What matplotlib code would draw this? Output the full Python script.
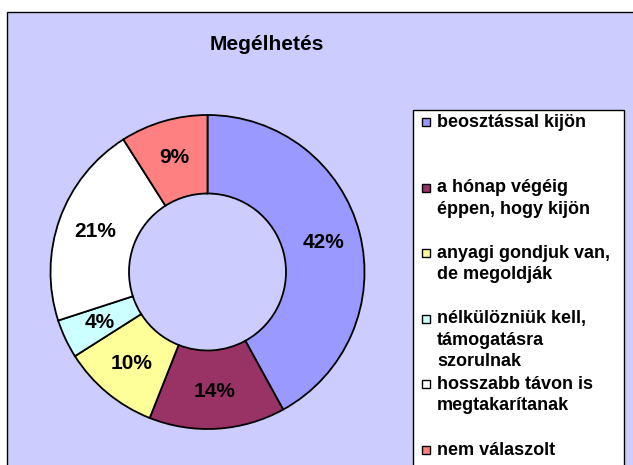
import matplotlib.pyplot as plt
from matplotlib.patches import Rectangle

plt.rcParams['font.family'] = ['Liberation Sans', 'DejaVu Sans']

title = 'Megélhetés'
labels = ['beosztással kijön',
          'a hónap végéig\néppen, hogy kijön',
          'anyagi gondjuk van,\nde megoldják',
          'nélkülözniük kell,\ntámogatásra\nszorulnak',
          'hosszabb távon is\nmegtakarítanak',
          'nem válaszolt']
values = [42, 14, 10, 4, 21, 9]
colors = ['#9999FF', '#993366', '#FFFF99', '#CCFFFF', '#FFFFFF', '#FF8080']

W, H = 633, 465
fig = plt.figure(figsize=(W / 100, H / 100), dpi=100, facecolor='white')

# chart area background
fig.patches.append(Rectangle((7 / W, -0.01), 1.02 - 7 / W, 1.01 - 12 / H,
                             transform=fig.transFigure, facecolor='#CCCCFF',
                             edgecolor='black', linewidth=1, zorder=0))

# doughnut
cx, cy, r = 207.5, 272, 157
ax = fig.add_axes([(cx - r) / W, 1 - (cy + r) / H, 2 * r / W, 2 * r / H])
ax.set_zorder(5)
ax.patch.set_visible(False)
ax.pie(values, colors=colors, startangle=90, counterclock=False, radius=1,
       autopct='%1.0f%%', pctdistance=0.76,
       wedgeprops=dict(width=0.5, edgecolor='black', linewidth=1.3),
       textprops=dict(fontsize=15, fontweight='bold', color='black'))
ax.set_xlim(-1, 1)
ax.set_ylim(-1, 1)
ax.set_aspect('auto')
ax.axis('off')

fig.text(267 / W, 1 - 44 / H, title, ha='center', va='center',
         fontsize=15, fontweight='bold')

# legend box
fig.patches.append(Rectangle((413 / W, -0.01), (624 - 413) / W, 0.01 + 1 - 110 / H,
                             transform=fig.transFigure, facecolor='white',
                             edgecolor='black', linewidth=1, zorder=1))
for i, (lab, col) in enumerate(zip(labels, colors)):
    y0 = 122 + i * 65.6
    fig.patches.append(Rectangle((422 / W, 1 - (y0 + 4) / H), 8 / W, 8 / H,
                                 transform=fig.transFigure, facecolor=col,
                                 edgecolor='black', linewidth=1, zorder=2))
    for j, line in enumerate(lab.split('\n')):
        fig.text(437 / W, 1 - (y0 + j * 21.5) / H, line, ha='left', va='center',
                 fontsize=13, fontweight='bold', zorder=3)

fig.savefig('out.png', dpi=100, facecolor='white')
